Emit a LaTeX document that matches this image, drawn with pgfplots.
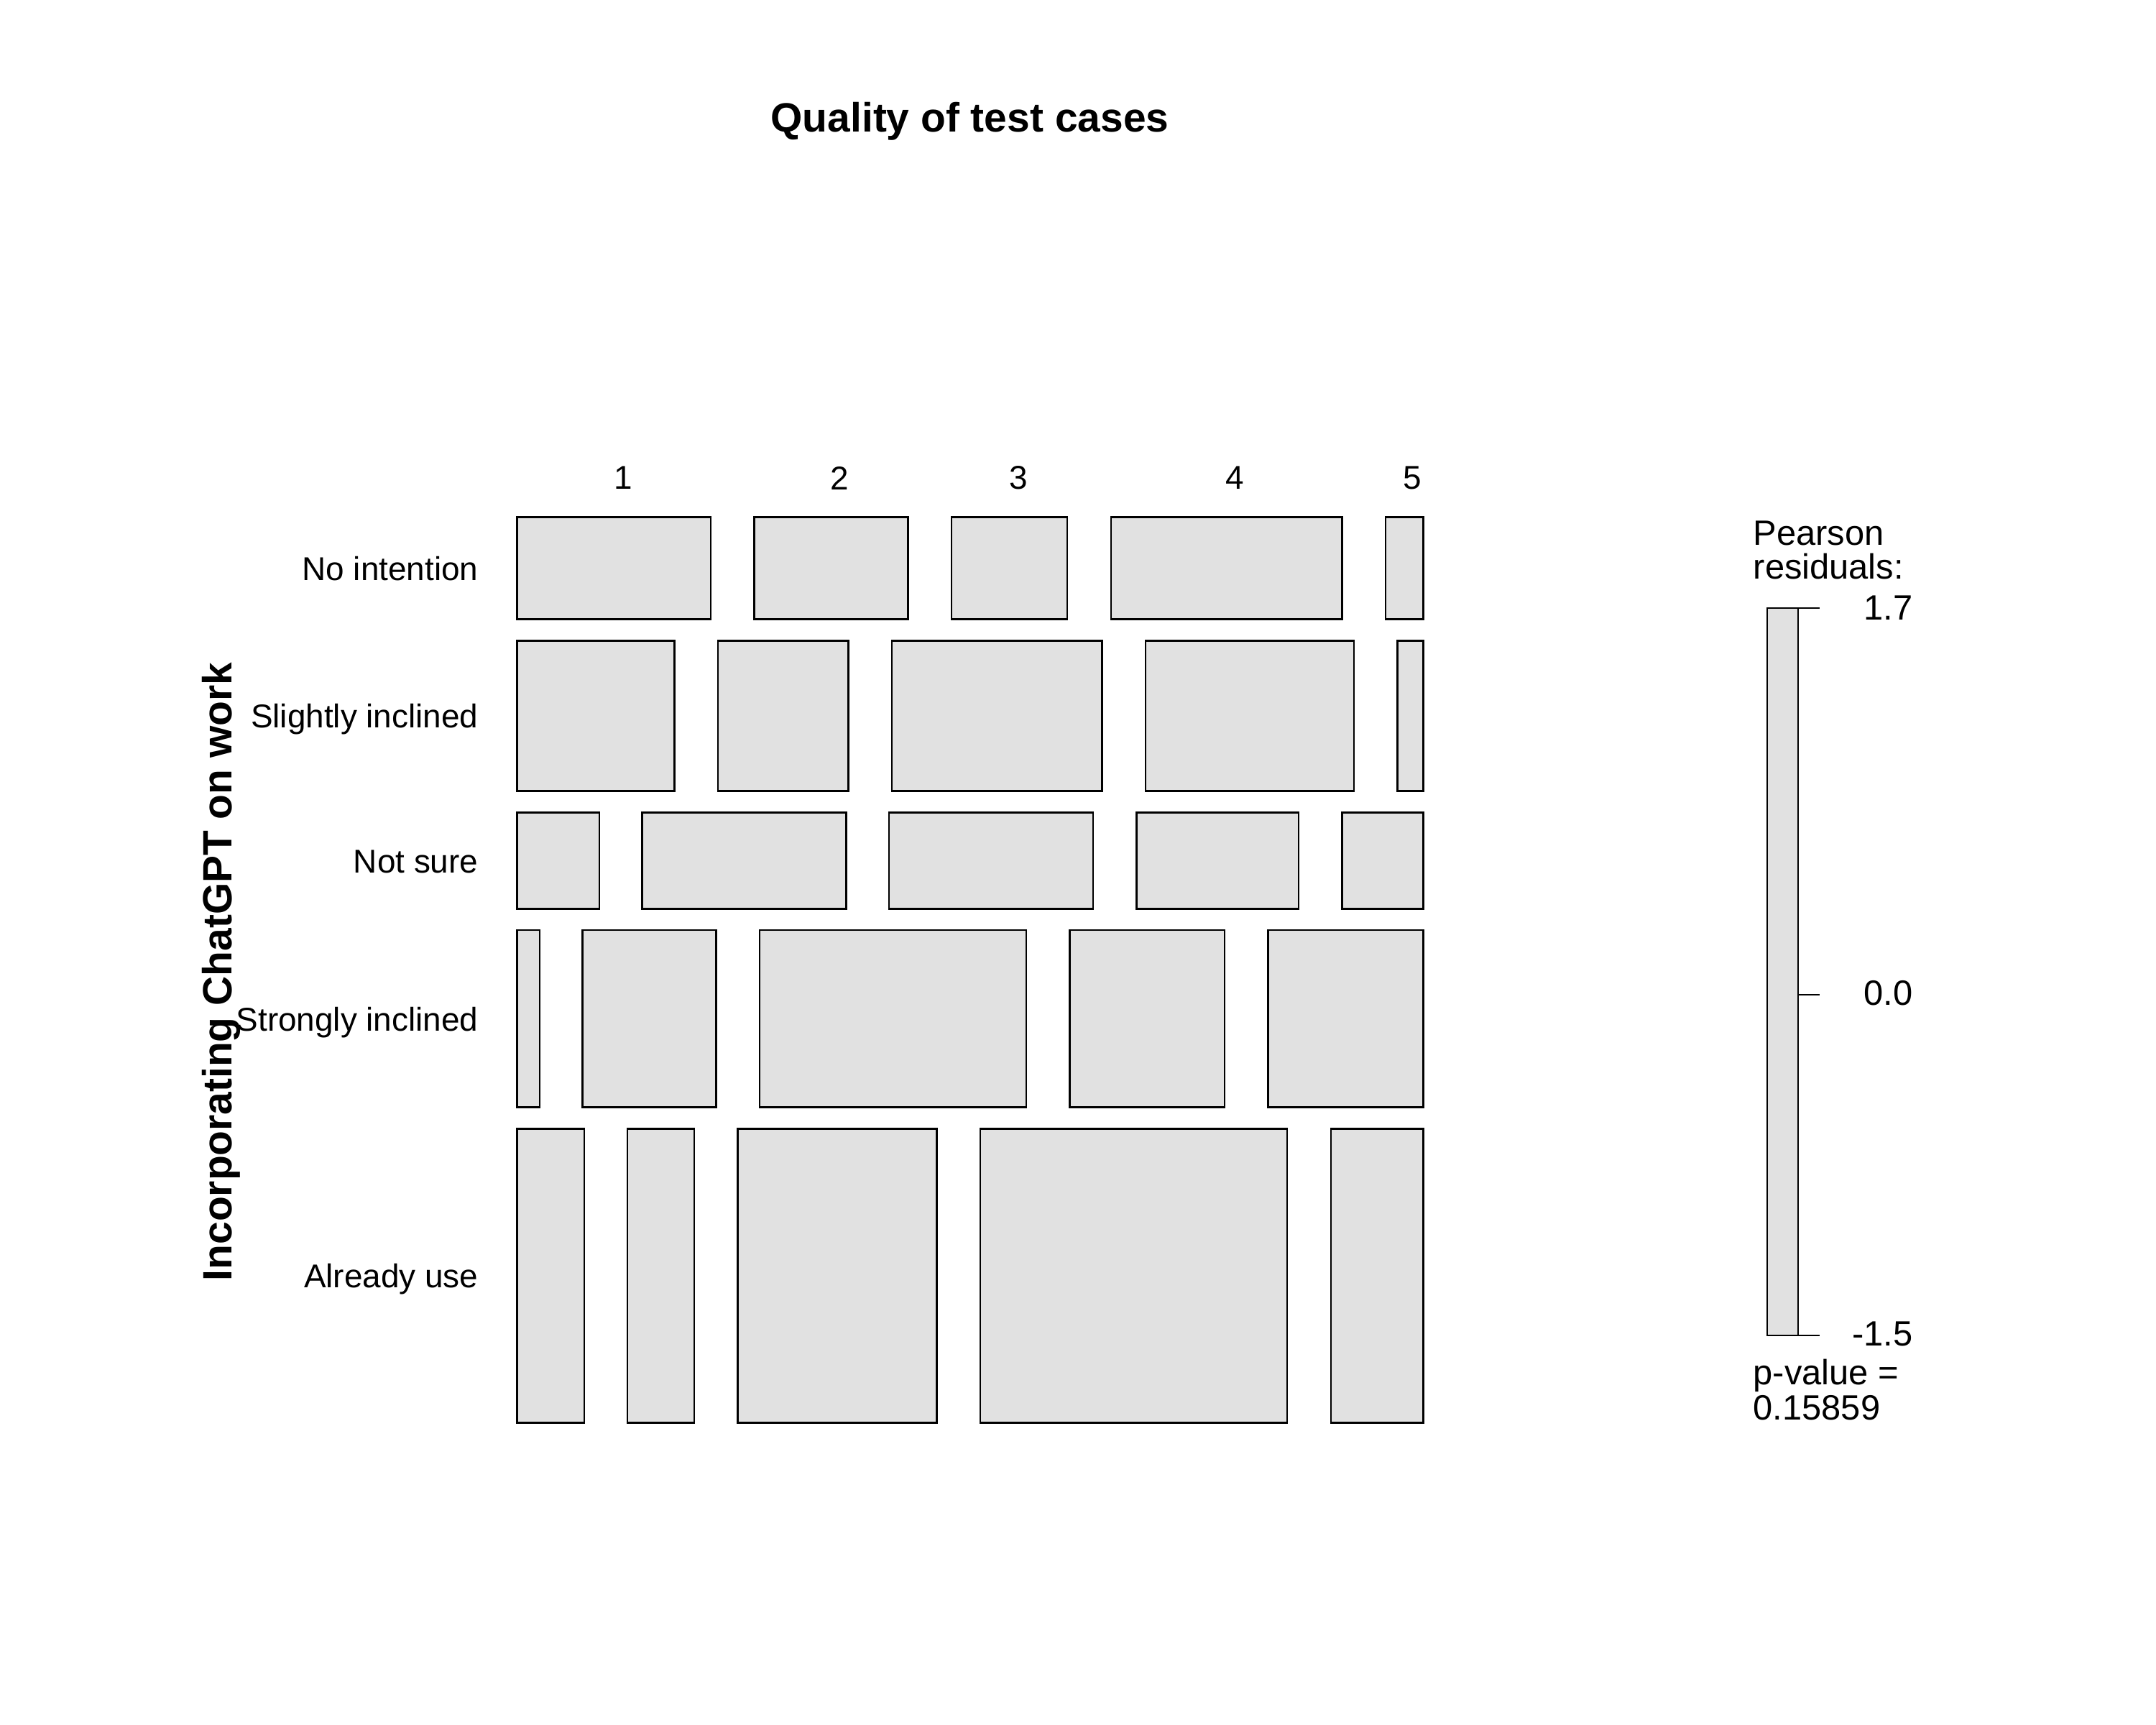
\documentclass[border=0pt]{standalone}
\usepackage{fontspec}
\setmainfont{Liberation Sans}
\usepackage{pgfplots}
\pgfplotsset{compat=1.18}
\definecolor{tilefill}{RGB}{225,225,225}
\newcommand{\lab}{\fontsize{13.05}{15}\selectfont}
\newcommand{\leg}{\fontsize{13.9}{16}\selectfont}
\newcommand{\ttl}{\fontsize{16.2}{19}\selectfont\bfseries}
\newcommand{\tile}[4]{\addplot[draw=black, fill=tilefill, line width=0.7pt, mark=none] coordinates {(#1,#3) (#2,#3) (#2,#4) (#1,#4)} -- cycle;}
\begin{document}
\begin{tikzpicture}
\path[use as bounding box] (0,0) rectangle (30cm,24cm);
\begin{axis}[
  at={(0,0)}, anchor=south west,
  scale only axis, width=30cm, height=24cm,
  xmin=0, xmax=3000, ymin=0, ymax=2400,
  y dir=reverse, hide axis, clip=false,
]
% Row 1: No intention
\tile{719.4}{989.0}{719.3}{861.7}
\tile{1049.6}{1263.6}{719.3}{861.7}
\tile{1324.2}{1485.1}{719.3}{861.7}
\tile{1545.8}{1867.6}{719.3}{861.7}
\tile{1928.1}{1980.3}{719.3}{861.7}
% Row 2: Slightly inclined
\tile{719.4}{938.5}{891.3}{1100.3}
\tile{998.9}{1180.7}{891.3}{1100.3}
\tile{1241.2}{1533.3}{891.3}{1100.3}
\tile{1593.8}{1884.2}{891.3}{1100.3}
\tile{1944.7}{1980.3}{891.3}{1100.3}
% Row 3: Not sure
\tile{719.4}{833.8}{1130.3}{1264.3}
\tile{893.7}{1177.3}{1130.3}{1264.3}
\tile{1237.2}{1520.9}{1130.3}{1264.3}
\tile{1581.3}{1806.9}{1130.3}{1264.3}
\tile{1867.6}{1980.3}{1130.3}{1264.3}
% Row 4: Strongly inclined
\tile{719.4}{751.0}{1294.0}{1540.7}
\tile{810.7}{996.5}{1294.0}{1540.7}
\tile{1057.1}{1427.9}{1294.0}{1540.7}
\tile{1488.4}{1704.2}{1294.0}{1540.7}
\tile{1764.6}{1980.3}{1294.0}{1540.7}
% Row 5: Already use
\tile{719.4}{813.2}{1570.3}{1979.7}
\tile{872.8}{965.8}{1570.3}{1979.7}
\tile{1026.3}{1303.5}{1570.3}{1979.7}
\tile{1364.0}{1791.2}{1570.3}{1979.7}
\tile{1851.9}{1980.3}{1570.3}{1979.7}
% legend bar
\tile{2459}{2502}{846}{1858}
\addplot[black, line width=0.7pt, mark=none] coordinates {(2502,846) (2532,846)};
\addplot[black, line width=0.7pt, mark=none] coordinates {(2502,1384) (2532,1384)};
\addplot[black, line width=0.7pt, mark=none] coordinates {(2502,1858) (2532,1858)};
% texts
\node[anchor=base, inner sep=0, font=\ttl] at (axis cs:1349.5,184) {Quality of test cases};
\node[rotate=90, anchor=base, inner sep=0, font=\ttl] at (axis cs:322,1352) {Incorporating ChatGPT on work};
\node[anchor=base east, inner sep=0, font=\lab] at (axis cs:666,807) {No intention};
\node[anchor=base east, inner sep=0, font=\lab] at (axis cs:666,1012) {Slightly inclined};
\node[anchor=base east, inner sep=0, font=\lab] at (axis cs:666,1214) {Not sure};
\node[anchor=base east, inner sep=0, font=\lab] at (axis cs:666,1434) {Strongly inclined};
\node[anchor=base east, inner sep=0, font=\lab] at (axis cs:666,1791.5) {Already use};
\node[anchor=center, inner sep=0, font=\lab] at (axis cs:867,665) {1};
\node[anchor=center, inner sep=0, font=\lab] at (axis cs:1168,665) {2};
\node[anchor=center, inner sep=0, font=\lab] at (axis cs:1417,665) {3};
\node[anchor=center, inner sep=0, font=\lab] at (axis cs:1718,665) {4};
\node[anchor=center, inner sep=0, font=\lab] at (axis cs:1965,665) {5};
\node[anchor=base west, inner sep=0, font=\leg] at (axis cs:2439,759) {Pearson};
\node[anchor=base west, inner sep=0, font=\leg] at (axis cs:2439,805) {residuals:};
\node[anchor=east, inner sep=0, font=\leg] at (axis cs:2662,846) {1.7};
\node[anchor=east, inner sep=0, font=\leg] at (axis cs:2662,1382) {0.0};
\node[anchor=east, inner sep=0, font=\leg] at (axis cs:2662,1856) {-1.5};
\node[anchor=base west, inner sep=0, font=\leg] at (axis cs:2439,1926) {p-value =};
\node[anchor=base west, inner sep=0, font=\leg] at (axis cs:2439,1975) {0.15859};
\end{axis}
\end{tikzpicture}
\end{document}
